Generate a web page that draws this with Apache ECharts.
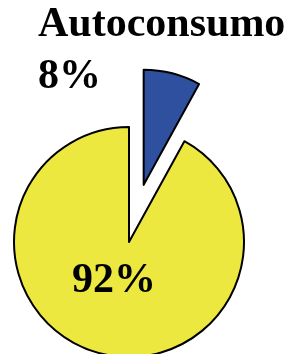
<!DOCTYPE html>
<html>
<head>
<meta charset="utf-8">
<script src="https://cdn.jsdelivr.net/npm/echarts@6/dist/echarts.min.js"></script>
<style>
  html, body { margin: 0; padding: 0; background: #fff; }
  #chart { width: 291px; height: 354px; }
</style>
</head>
<body>
<div id="chart"></div>
<script>
// 数据
const sliceNames = ['Autoconsumo', 'Resto'];
const sliceValues = [8, 92];
const sliceColors = ['#2f4f9f', '#ede83f'];

const chart = echarts.init(document.getElementById('chart'));
const fontFamily = '"Liberation Serif", "Times New Roman", serif';

const option = {
    animation: false,
    title: {
        text: sliceNames[0] + '\n' + sliceValues[0] + '%',
        left: 38,
        top: -1,
        padding: 0,
        textStyle: {
            fontFamily: fontFamily,
            fontSize: 42,
            fontWeight: 'bold',
            lineHeight: 52,
            color: '#000'
        }
    },
    series: [{
        type: 'pie',
        center: [129, 242],
        radius: [0, 115],
        startAngle: 90,
        clockwise: true,
        selectedMode: 'single',
        selectedOffset: 59,
        avoidLabelOverlap: false,
        itemStyle: {
            borderColor: '#000',
            borderWidth: 2
        },
        label: {
            show: false
        },
        labelLine: { show: false },
        emphasis: { disabled: true },
        data: sliceValues.map((v, i) => ({
            name: sliceNames[i],
            value: v,
            selected: i === 0,
            itemStyle: { color: sliceColors[i] },
            label: i === 1 ? {
                show: true,
                position: 'inside',
                // 第二行为空白，用来把数字向上挪
                formatter: '{c}%\n ',
                fontFamily: fontFamily,
                fontSize: 42,
                fontWeight: 'bold',
                lineHeight: 38,
                color: '#000'
            } : { show: false }
        }))
    }]
};

chart.setOption(option);
</script>
</body>
</html>
